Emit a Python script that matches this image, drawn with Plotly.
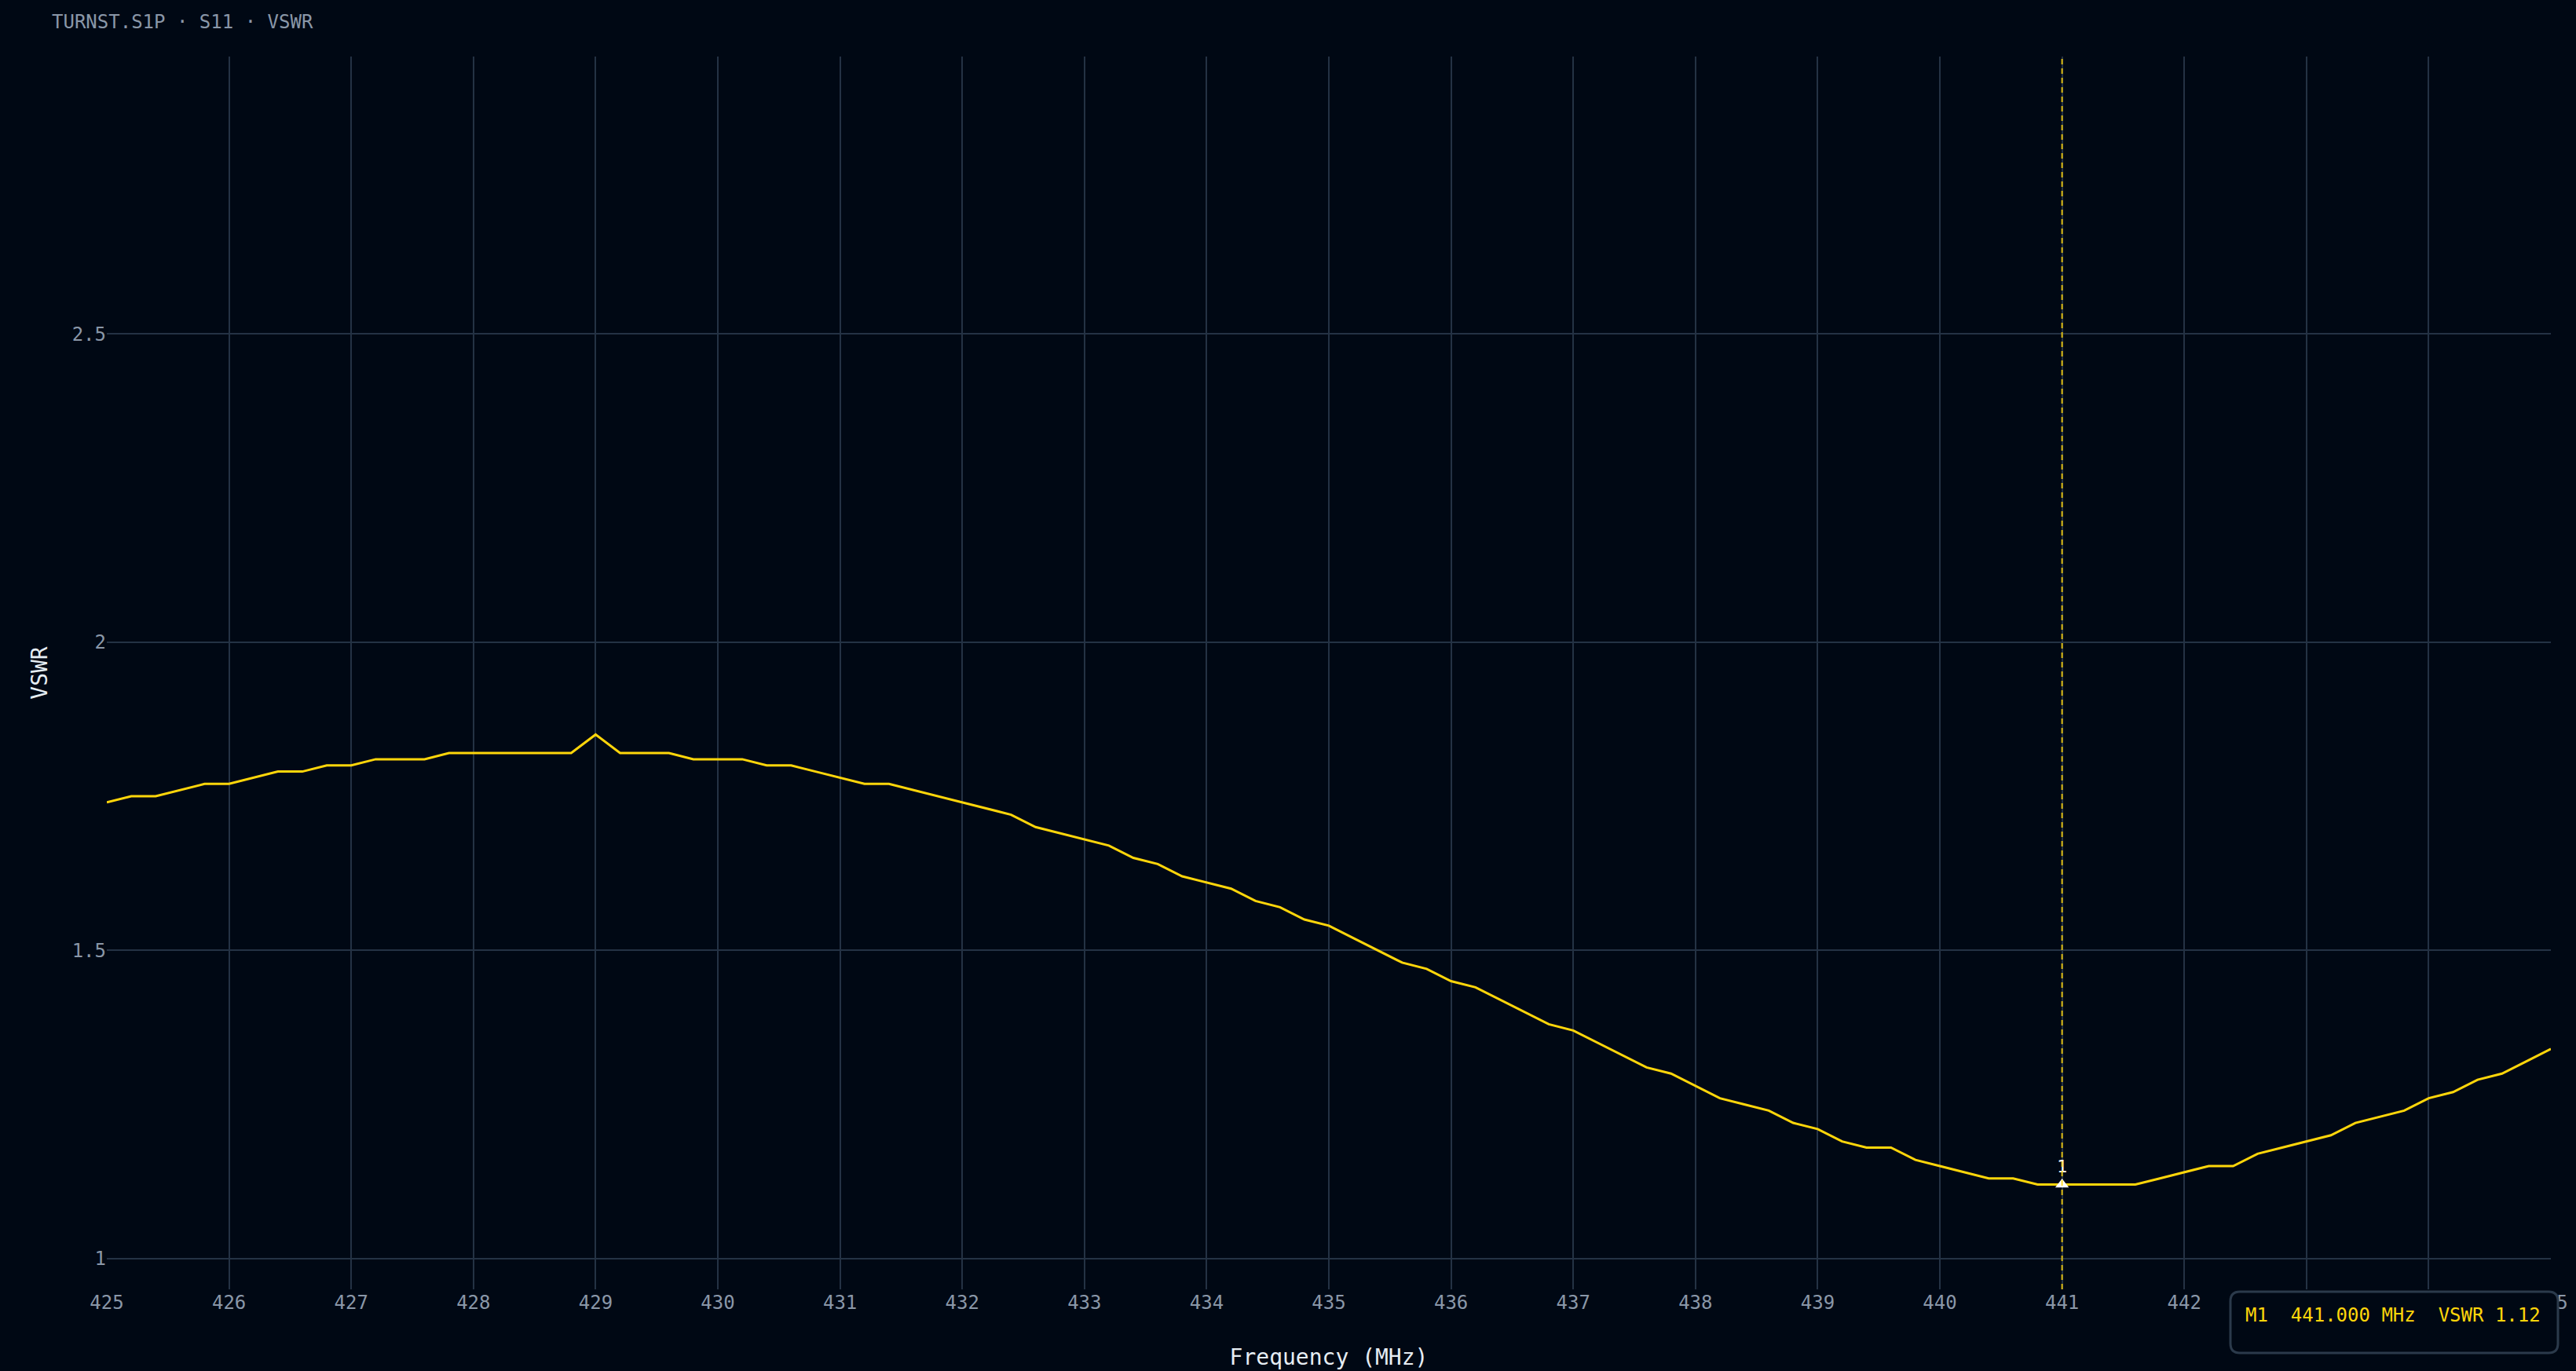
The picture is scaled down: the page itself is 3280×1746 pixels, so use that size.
import plotly.graph_objects as go

# S11 sweep, VSWR (0.2 MHz steps)
freq_mhz = [
    425.0, 425.2, 425.4, 425.6, 425.8, 426.0, 426.2, 426.4, 426.6, 426.8,
    427.0, 427.2, 427.4, 427.6, 427.8, 428.0, 428.2, 428.4, 428.6, 428.8,
    429.0, 429.2, 429.4, 429.6, 429.8, 430.0, 430.2, 430.4, 430.6, 430.8,
    431.0, 431.2, 431.4, 431.6, 431.8, 432.0, 432.2, 432.4, 432.6, 432.8,
    433.0, 433.2, 433.4, 433.6, 433.8, 434.0, 434.2, 434.4, 434.6, 434.8,
    435.0, 435.2, 435.4, 435.6, 435.8, 436.0, 436.2, 436.4, 436.6, 436.8,
    437.0, 437.2, 437.4, 437.6, 437.8, 438.0, 438.2, 438.4, 438.6, 438.8,
    439.0, 439.2, 439.4, 439.6, 439.8, 440.0, 440.2, 440.4, 440.6, 440.8,
    441.0, 441.2, 441.4, 441.6, 441.8, 442.0, 442.2, 442.4, 442.6, 442.8,
    443.0, 443.2, 443.4, 443.6, 443.8, 444.0, 444.2, 444.4, 444.6, 444.8,
    445.0,
]
vswr = [
    1.74, 1.75, 1.75, 1.76, 1.77, 1.77, 1.78, 1.79, 1.79, 1.80,
    1.80, 1.81, 1.81, 1.81, 1.82, 1.82, 1.82, 1.82, 1.82, 1.82,
    1.85, 1.82, 1.82, 1.82, 1.81, 1.81, 1.81, 1.80, 1.80, 1.79,
    1.78, 1.77, 1.77, 1.76, 1.75, 1.74, 1.73, 1.72, 1.70, 1.69,
    1.68, 1.67, 1.65, 1.64, 1.62, 1.61, 1.60, 1.58, 1.57, 1.55,
    1.54, 1.52, 1.50, 1.48, 1.47, 1.45, 1.44, 1.42, 1.40, 1.38,
    1.37, 1.35, 1.33, 1.31, 1.30, 1.28, 1.26, 1.25, 1.24, 1.22,
    1.21, 1.19, 1.18, 1.18, 1.16, 1.15, 1.14, 1.13, 1.13, 1.12,
    1.12, 1.12, 1.12, 1.12, 1.13, 1.14, 1.15, 1.15, 1.17, 1.18,
    1.19, 1.20, 1.22, 1.23, 1.24, 1.26, 1.27, 1.29, 1.30, 1.32,
    1.34,
]

# marker M1
marker_freq = [441.0]
marker_vswr = [1.12]
marker_label = ["1"]

BG = "#000814"
GRID = "#243244"
YELLOW = "#ffd60a"
MUTED = "#8a97a8"
LIGHT = "#e6edf3"
FONT = "DejaVu Sans Mono"

W, H = 3280, 1746
ML, MR, MT, MB = 136, 32, 72, 104


def px_x(px):
    return (px - ML) / (W - ML - MR)


def px_y(py):
    return (H - MB - py) / (H - MT - MB)


fig = go.Figure()
fig.add_trace(go.Scatter(
    x=freq_mhz, y=vswr, mode="lines",
    line=dict(color=YELLOW, width=3),
    name="S11", showlegend=False,
))
fig.add_trace(go.Scatter(
    x=marker_freq, y=marker_vswr, mode="markers+text",
    marker=dict(symbol="triangle-up", size=15, color="white"),
    text=marker_label, textposition="top center",
    textfont=dict(family=FONT, size=22, color="white"),
    showlegend=False,
))

# marker line
fig.add_shape(
    type="line", xref="x", yref="paper",
    x0=marker_freq[0], x1=marker_freq[0], y0=0, y1=1,
    line=dict(color="rgba(255,214,10,0.85)", width=2, dash="7px,5px"),
    layer="above",
)

# marker readout box (rounded)
x0, x1 = px_x(2840), px_x(3257)
y0, y1 = px_y(1723), px_y(1645)
rx, ry = 12 / (W - ML - MR), 12 / (H - MT - MB)
path = (
    f"M {x0 + rx} {y1} L {x1 - rx} {y1} Q {x1} {y1} {x1} {y1 - ry} "
    f"L {x1} {y0 + ry} Q {x1} {y0} {x1 - rx} {y0} "
    f"L {x0 + rx} {y0} Q {x0} {y0} {x0} {y0 + ry} "
    f"L {x0} {y1 - ry} Q {x0} {y1} {x0 + rx} {y1} Z"
)
fig.add_shape(
    type="path", xref="paper", yref="paper", path=path,
    fillcolor=BG, line=dict(color="#2b3a4b", width=3), layer="above",
)
nb = "\u00a0"
readout = f"M1{nb*2}{marker_freq[0]:.3f} MHz{nb*2}VSWR {marker_vswr[0]:.2f}".replace(" ", nb)
fig.add_annotation(
    xref="paper", yref="paper", x=px_x(3047), y=px_y(1675),
    text=readout, showarrow=False, xanchor="center", yanchor="middle",
    font=dict(family=FONT, size=24, color=YELLOW),
)

fig.update_layout(
    width=W, height=H,
    paper_bgcolor=BG, plot_bgcolor=BG,
    margin=dict(l=ML, r=MR, t=MT, b=MB),
    font=dict(family=FONT, size=24, color=MUTED),
    title=dict(
        text="TURNST.S1P · S11 · VSWR",
        xref="container", yref="container",
        x=66 / W, y=1 - 28 / H, xanchor="left", yanchor="middle",
        font=dict(family=FONT, size=24, color=MUTED),
    ),
    xaxis=dict(
        range=[425, 445], dtick=1, tick0=425,
        showgrid=True, gridcolor=GRID, gridwidth=2,
        zeroline=False, showline=False, ticks="",
        tickfont=dict(family=FONT, size=24, color=MUTED),
        title=dict(text="Frequency (MHz)", standoff=46,
                   font=dict(family=FONT, size=28, color=LIGHT)),
        automargin=False,
    ),
    yaxis=dict(
        range=[0.95, 2.95], tickvals=[1, 1.5, 2, 2.5],
        ticktext=["1", "1.5", "2", "2.5"],
        showgrid=True, gridcolor=GRID, gridwidth=2,
        zeroline=False, showline=False, ticks="",
        tickfont=dict(family=FONT, size=24, color=MUTED),
        title=dict(text="VSWR", standoff=22,
                   font=dict(family=FONT, size=28, color=LIGHT)),
        automargin=False,
    ),
)

# full-bleed page: no default body margin around the figure
page_css = (
    "document.body.style.margin='0';"
    "document.body.style.background='" + BG + "';"
)
fig.write_html("out.html", post_script=page_css,
               config={"displayModeBar": False})
